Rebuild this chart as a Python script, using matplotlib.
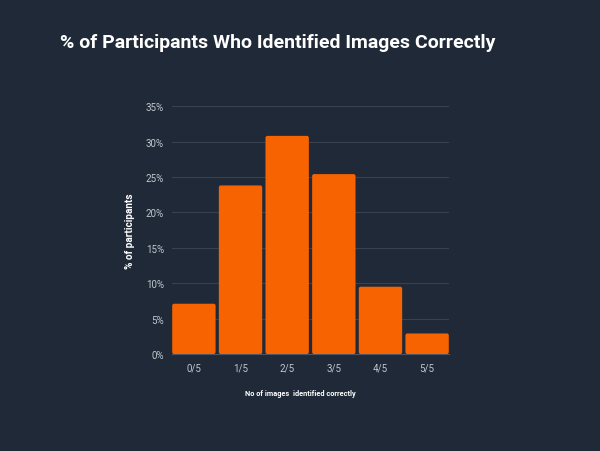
import numpy as np
import matplotlib.pyplot as plt
from matplotlib.patches import FancyBboxPatch

# data
scores = ["0/5", "1/5", "2/5", "3/5", "4/5", "5/5"]
pct = [7.1, 23.8, 30.8, 25.4, 9.5, 2.9]
yticks = [0, 5, 10, 15, 20, 25, 30, 35]

bg = "#1f2937"
bar_color = "#f76300"
tick_color = "#c3c7ce"

plt.rcParams["font.family"] = ["Roboto", "DejaVu Sans"]

fig = plt.figure(figsize=(6, 4.52), dpi=100, facecolor=bg)
ax = fig.add_axes([0.287, 0.2146, 0.461, 0.5484], facecolor=bg)

x = np.arange(len(scores))
bars = ax.bar(x, pct, width=0.93, color=bar_color, zorder=3)

# rounded tops like the original
for b in bars:
    bx, by = b.get_x(), b.get_y()
    w, h = b.get_width(), b.get_height()
    b.set_visible(False)
    p = FancyBboxPatch((bx, by), w, h,
                       boxstyle="round,pad=0,rounding_size=0.04",
                       mutation_aspect=7.0,
                       facecolor=bar_color, edgecolor="none", zorder=3)
    ax.add_patch(p)

ax.set_xlim(-0.465, 5.465)
ax.set_ylim(0, 35)
ax.set_yticks(yticks)
ax.set_yticklabels([f"{t}%" for t in yticks])
ax.set_xticks(x)
ax.set_xticklabels(scores)
ax.tick_params(colors=tick_color, labelsize=7, length=0, pad=6)
ax.grid(axis="y", color="#374151", linewidth=0.8, zorder=0)
for s in ["top", "right", "left"]:
    ax.spines[s].set_visible(False)
ax.spines["bottom"].set_color("#4b5563")

ax.set_ylabel("% of participants", color="white", fontsize=7.2, fontweight="bold", labelpad=8)
fig.text(0.5, 0.128, "No of images  identified correctly", color="white",
         fontsize=5.3, fontweight="bold", ha="center", va="center")

fig.text(0.463, 0.905, "% of Participants Who Identified Images Correctly",
         color="white", fontsize=14, fontweight="bold", ha="center", va="center")

fig.savefig("out.png", dpi=100, facecolor=bg)
